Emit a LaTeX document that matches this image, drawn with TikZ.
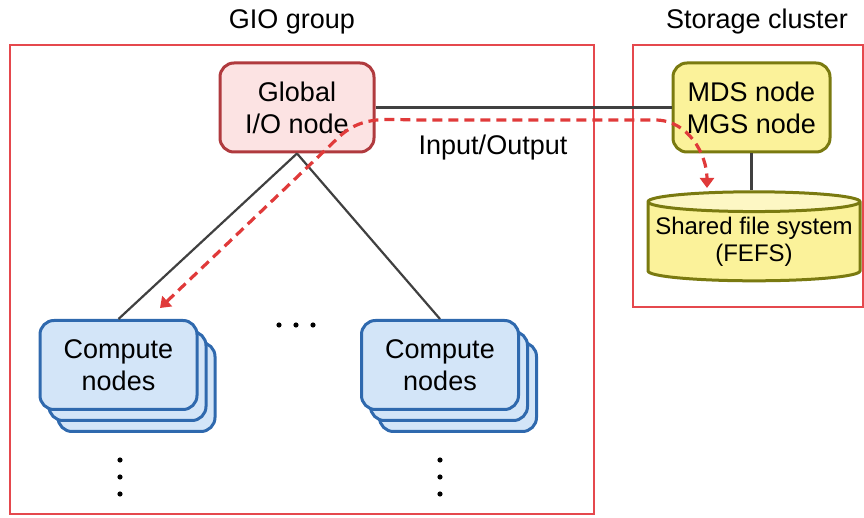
\documentclass[tikz,border=0pt]{standalone}
\usepackage{fontspec}
\setmainfont{Liberation Sans}
\usetikzlibrary{shapes.geometric,shadows,arrows.meta}

\definecolor{grpred}{HTML}{E5484D}
\definecolor{gioline}{HTML}{B03A3E}
\definecolor{giofill}{HTML}{FCE3E3}
\definecolor{mdsline}{HTML}{7A7A10}
\definecolor{mdsfill}{HTML}{FBF29A}
\definecolor{mdstop}{HTML}{FDF7C4}
\definecolor{cmpline}{HTML}{2F69AE}
\definecolor{cmpfill}{HTML}{D3E5F8}
\definecolor{ioline}{HTML}{E03A3A}
\definecolor{wire}{HTML}{404040}

\tikzset{
  txt/.style={font=\fontsize{13.5}{16}\selectfont, align=center},
  srvbox/.style={txt, draw, rounded corners=7pt, line width=1.5pt, minimum height=44.5pt, inner sep=0pt},
  group/.style={draw=grpred, line width=1pt, inner sep=0pt},
  wirel/.style={draw=wire, line width=1.1pt},
}

\begin{document}
\begin{tikzpicture}[x=0.5pt,y=-0.5pt]
\useasboundingbox (0,0) rectangle (864,518);

% frames
\node[group, minimum width=292pt, minimum height=234.5pt] (gio) at (302,279.5) {};
\node[txt] (giolbl) at (292,22) {GIO group};
\node[group, minimum width=115pt, minimum height=131pt] (stor) at (748,176) {};
\node[txt] (storlbl) at (757,22) {Storage cluster};

% servers
\node[srvbox, draw=gioline, fill=giofill, minimum width=77pt] (gion) at (297,107.5) {Global\\I/O node};
\node[srvbox, draw=mdsline, fill=mdsfill, minimum width=78.5pt] (mds) at (751.5,107.5) {MDS node\\MGS node};
\node[txt, font=\fontsize{12}{13.5}\selectfont, draw=mdsline, line width=1.5pt,
      cylinder, shape border rotate=90, aspect=0.1, minimum width=106pt, minimum height=44.5pt, inner sep=0pt,
      cylinder uses custom fill, cylinder body fill=mdsfill, cylinder end fill=mdstop]
      (fefs) at (754,242) {Shared file system\\(FEFS)};

% compute nodes
\foreach \cx/\nm in {118.5/cn1, 440/cn2}
  \node[srvbox, draw=cmpline, fill=cmpfill, minimum width=78.5pt,
        double copy shadow={shadow xshift=4.5pt, shadow yshift=-5.5pt}] (\nm) at (\cx,365) {Compute\\nodes};

% dots
\foreach \dx in {279,296,313} \fill (\dx,325) circle (2.6);
\foreach \cx in {120,440}
  \foreach \dy in {460,477,494} \fill (\cx,\dy) circle (2.6);

% wires
\draw[wirel] (gion.east) -- (mds.west);
\draw[wirel] (mds.south) -- (mds.south |- fefs.north);
\draw[wirel] (gion.south) -- (cn1.north);
\draw[wirel] (gion.south) -- (cn2.north);

% input/output
\coordinate (iocn) at (160,308);
\coordinate (iofs) at (707,188);
\draw[ioline, line width=1.6pt, dash pattern=on 5pt off 3pt,
      {Triangle[length=5pt,width=7pt]}-{Triangle[length=5pt,width=7pt]}]
  (iocn) -- (340,136) to[out=42,in=180] (420,120) -- (655,120) to[out=0,in=90] (iofs);
\node[txt] (iolbl) at (493,148) {Input/Output};
\end{tikzpicture}
\end{document}
